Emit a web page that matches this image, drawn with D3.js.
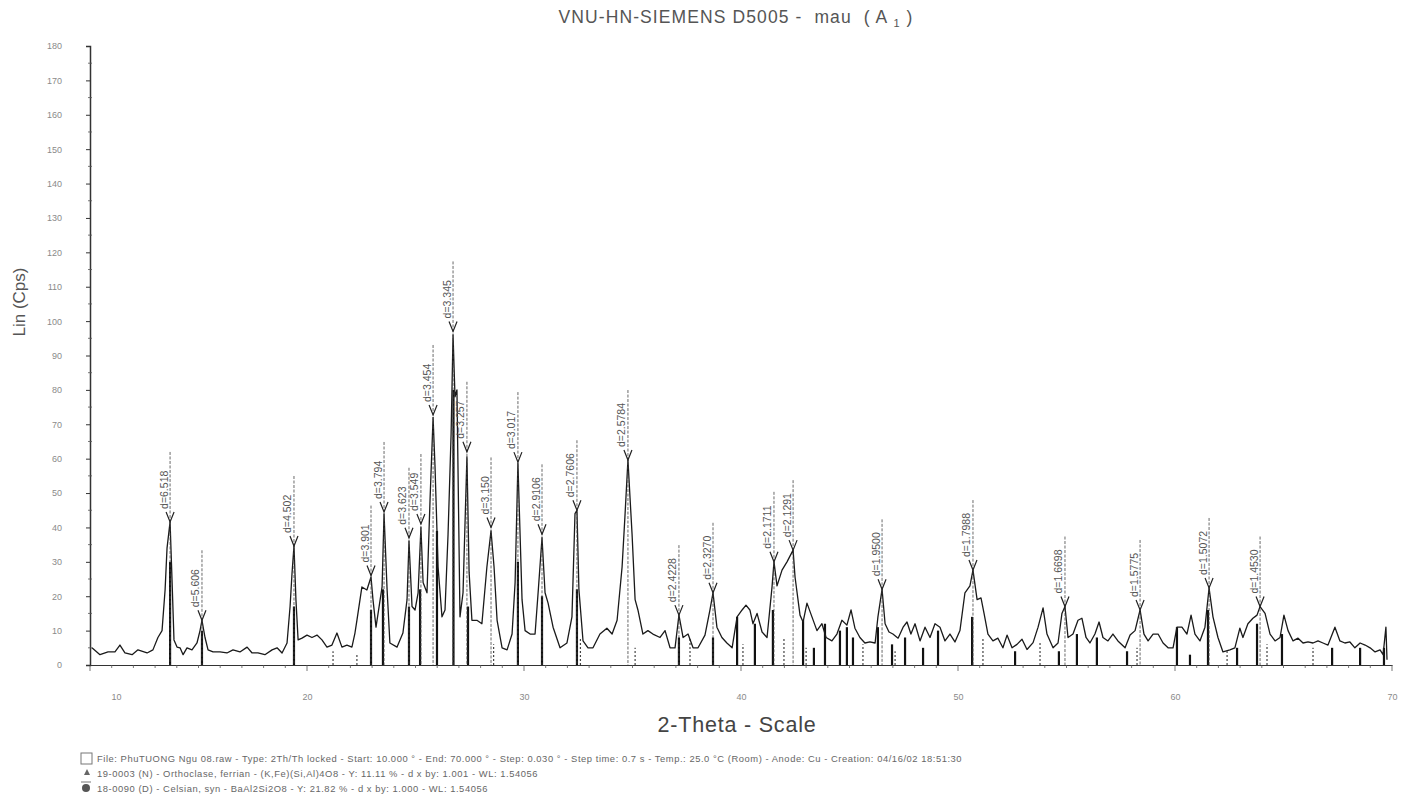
<!DOCTYPE html>
<html>
<head>
<meta charset="utf-8">
<script src="https://cdn.jsdelivr.net/npm/d3@7"></script>
<style>
  body { margin: 0; background: #fff; }
  svg { display: block; font-family: Arial, "Liberation Sans", sans-serif; }
  .tick text { fill: #8a8a8a; font-size: 9px; }
  .tick line, .domain { stroke: #333; }
  .peak-label { fill: #555; font-size: 10.5px; }
  .footer { fill: #666; font-size: 9.4px; letter-spacing: 0.55px; white-space: pre; }
</style>
</head>
<body>
<svg id="chart" width="1405" height="807"></svg>
<script>
// --- Data ---
// measured pattern: 2-theta (deg) and intensity (Cps)
const twoTheta = [
  10.09, 10.46, 10.83, 11.15, 11.38, 11.61, 11.94, 12.21, 12.63, 12.90, 13.13, 13.32, 13.46, 13.55, 13.69, 13.78, 13.87,
  14.01, 14.15, 14.29, 14.47, 14.70, 14.93, 15.07, 15.16, 15.30, 15.44, 15.67, 15.99, 16.31, 16.59, 16.91, 17.24, 17.47,
  17.74, 18.06, 18.39, 18.62, 18.85, 19.08, 19.22, 19.31, 19.40, 19.49, 19.59, 19.77, 20.00, 20.23, 20.46, 20.69, 20.92,
  21.15, 21.38, 21.61, 21.84, 22.07, 22.21, 22.30, 22.53, 22.76, 22.95, 23.04, 23.18, 23.46, 23.55, 23.69, 23.82, 24.15,
  24.42, 24.61, 24.70, 24.84, 24.98, 25.12, 25.25, 25.35, 25.53, 25.67, 25.81, 25.90, 26.04, 26.22, 26.36, 26.50, 26.64,
  26.73, 26.82, 26.91, 27.05, 27.19, 27.37, 27.47, 27.60, 27.83, 28.06, 28.29, 28.48, 28.62, 28.76, 28.99, 29.22, 29.45,
  29.59, 29.72, 29.91, 30.05, 30.28, 30.51, 30.65, 30.83, 30.97, 31.11, 31.34, 31.66, 31.98, 32.21, 32.35, 32.44, 32.53,
  32.72, 32.95, 33.18, 33.50, 33.82, 34.06, 34.29, 34.52, 34.65, 34.79, 34.98, 35.12, 35.25, 35.48, 35.71, 35.94, 36.27,
  36.50, 36.73, 36.96, 37.14, 37.33, 37.56, 37.79, 38.02, 38.34, 38.57, 38.71, 38.89, 39.12, 39.35, 39.59, 39.82, 40.05,
  40.23, 40.41, 40.55, 40.74, 40.97, 41.20, 41.43, 41.52, 41.66, 41.89, 42.12, 42.40, 42.49, 42.72, 42.86, 43.04, 43.27,
  43.50, 43.73, 43.92, 44.19, 44.42, 44.65, 44.88, 45.07, 45.25, 45.48, 45.71, 45.94, 46.18, 46.31, 46.50, 46.64, 46.82,
  47.00, 47.24, 47.47, 47.65, 47.83, 48.02, 48.25, 48.48, 48.71, 48.94, 49.17, 49.40, 49.63, 49.86, 50.09, 50.32, 50.55,
  50.69, 50.88, 51.06, 51.20, 51.38, 51.61, 51.84, 52.07, 52.26, 52.49, 52.72, 52.95, 53.18, 53.46, 53.69, 53.92, 54.10,
  54.38, 54.61, 54.79, 54.93, 55.07, 55.30, 55.53, 55.71, 55.90, 56.08, 56.31, 56.50, 56.68, 56.91, 57.14, 57.37, 57.70,
  57.93, 58.16, 58.39, 58.57, 58.76, 58.99, 59.22, 59.45, 59.68, 59.91, 60.09, 60.32, 60.55, 60.74, 60.92, 61.15, 61.38,
  61.57, 61.75, 61.98, 62.21, 62.53, 62.76, 62.99, 63.13, 63.36, 63.59, 63.78, 63.92, 64.15, 64.38, 64.61, 64.84, 65.02,
  65.21, 65.44, 65.67, 65.90, 66.13, 66.36, 66.59, 66.82, 67.05, 67.37, 67.60, 67.83, 68.06, 68.29, 68.53, 68.76, 68.99,
  69.22, 69.45, 69.59, 69.72, 69.77
];
const counts = [
  5, 3, 3.8, 3.8, 5.8, 3.5, 3, 4.4, 3.5, 4.4, 8, 10, 21.8, 34, 41.6, 24.7, 7.3,
  5.2, 5, 3, 5, 4.4, 6.4, 10, 13, 8, 4.4, 3.8, 3.8, 3.5, 4.4, 3.8, 5.2, 3.5,
  3.5, 3, 4.4, 5, 3.5, 6.4, 17, 26.7, 34.6, 19, 7.3, 7.8, 8.7, 8, 8.7, 7.3, 5.2,
  5.8, 9.3, 5.2, 5.8, 5.2, 9.3, 13, 22.7, 21.8, 25.6, 19, 11, 22.7, 44, 22, 6.4, 5.2,
  9.3, 19, 36, 17, 16, 21, 40, 24, 21, 48, 72, 57.6, 28.5, 14, 16, 38, 67,
  96, 78, 80, 14, 21, 60.5, 27, 13, 13, 12, 28.5, 39, 28.5, 13, 5, 4.4, 9,
  24, 58.7, 19, 10, 9, 9, 21, 37, 21, 18, 11, 5, 6.4, 14, 44, 45, 22,
  7, 5, 5, 9, 10.7, 9, 13, 28.5, 43, 59.6, 38, 19, 16, 9, 10, 9, 8,
  10, 5, 5, 14.5, 8, 9, 5, 5, 8.7, 16, 21, 11, 8, 6.4, 5, 14, 16,
  17.4, 16, 12, 15, 9.6, 8, 22.7, 30, 23, 27.6, 30, 33.4, 25.6, 14.5, 12.5, 18, 14,
  10, 12, 8, 7, 9, 13, 11.6, 16, 10.7, 8, 6.4, 6.7, 6.4, 14, 22, 12, 9.6,
  9, 7.8, 11, 12.5, 9, 12, 7, 11, 8, 12, 11, 7, 9, 6.7, 10, 21, 23,
  27.6, 19, 19.5, 15, 9, 7, 7.8, 5, 8.7, 5, 6, 7.5, 4.5, 6.5, 11, 16.6, 9,
  5, 6.4, 15, 17, 8, 9, 13, 13.6, 8, 6.4, 9, 12.5, 8, 7, 9, 7, 5,
  8.7, 10, 16, 9, 7, 9, 9, 6.4, 5, 5, 11, 11, 9, 14.5, 9, 7, 11,
  22.4, 14, 8, 3.8, 4.4, 5, 10.7, 8, 12, 13.6, 14.5, 17, 15, 9, 7, 8, 14.5,
  10, 7, 7.8, 6.4, 6.7, 6.4, 7, 6.4, 5.8, 11, 7, 6.4, 6.7, 5, 6.4, 5.8, 5,
  3.8, 4.4, 3, 11, 1.5
];

// peak markers: d-spacing label, 2-theta position, intensity at arrow tip
const peakLabels = ["d=6.518", "d=5.606", "d=4.502", "d=3.901", "d=3.794", "d=3.623", "d=3.549", "d=3.454",
  "d=3.345", "d=3.257", "d=3.150", "d=3.017", "d=2.9106", "d=2.7606", "d=2.5784", "d=2.4228", "d=2.3270",
  "d=2.1711", "d=2.1291", "d=1.9500", "d=1.7988", "d=1.6698", "d=1.5775", "d=1.5072", "d=1.4530"];
const peakPos = [13.69, 15.16, 19.40, 22.95, 23.55, 24.70, 25.25, 25.81, 26.73, 27.37, 28.48, 29.72, 30.83,
  32.44, 34.79, 37.14, 38.71, 41.52, 42.40, 46.50, 50.69, 54.93, 58.39, 61.57, 63.92];
const peakTip = [41.6, 13, 34.6, 26, 44.5, 37, 41, 72.7, 97, 62, 40, 59, 38, 45, 59.6, 14.5, 21, 30, 33.4,
  22, 27.6, 17, 16, 22.4, 17];

// reference pattern sticks, first card (solid)
const stickSolidPos = [13.69, 15.16, 19.40, 22.95, 23.50, 24.70, 25.21, 25.99, 26.75, 27.42, 29.72, 30.83, 32.44,
  37.14, 38.71, 39.82, 40.64, 41.47, 42.86, 43.36, 43.87, 44.56, 44.88, 45.16, 46.31, 46.96, 47.56, 48.39, 49.08,
  50.65, 52.63, 54.65, 55.48, 56.40, 57.79, 60.09, 60.69, 61.52, 62.86, 63.78, 64.93, 67.24, 68.53, 69.63];
const stickSolidHeight = [30, 10, 17, 16, 22, 17, 22, 39, 80, 17, 30, 20, 22,
  8, 8, 14, 12, 16, 13, 5, 12, 10, 11, 8, 11, 6, 8, 5, 10,
  14, 4, 4, 9, 8, 4, 11, 3, 16, 5, 12, 9, 5, 5, 5];
// second card (dotted)
const stickDotPos = [21.20, 22.30, 28.60, 32.60, 35.12, 37.65, 40.09, 41.98, 43.00, 45.62, 47.10, 51.15, 53.78,
  58.25, 62.40, 64.24, 66.36];
const stickDotHeight = [4, 3, 6, 8, 5, 8, 6, 8, 5, 6, 4, 8, 7, 5, 4, 6, 5];

const xTicks = [10, 20, 30, 40, 50, 60, 70];
const yTicks = d3.range(0, 181, 10);

const titleText = "VNU-HN-SIEMENS D5005 -  mau  ( A ";
const titleSub = "1";
const footerLines = [
  "File: PhuTUONG Ngu 08.raw - Type: 2Th/Th locked - Start: 10.000 \u00b0 - End: 70.000 \u00b0 - Step: 0.030 \u00b0 - Step time: 0.7 s - Temp.: 25.0 \u00b0C (Room) - Anode: Cu - Creation: 04/16/02 18:51:30",
  "19-0003 (N) - Orthoclase, ferrian - (K,Fe)(Si,Al)4O8 - Y: 11.11 % - d x by: 1.001 - WL: 1.54056",
  "18-0090 (D) - Celsian, syn - BaAl2Si2O8 - Y: 21.82 % - d x by: 1.000 - WL: 1.54056"
];

// --- Scales ---
const svg = d3.select("#chart");
const x = d3.scaleLinear().domain([10, 70]).range([90, 1392]);
const y = d3.scaleLinear().domain([0, 180]).range([665, 46]);

// --- Axes ---
const xAxis = svg.append("g")
  .attr("transform", `translate(0,${y(0)})`)
  .call(d3.axisBottom(x).tickValues(xTicks).tickSize(0).tickPadding(29).tickFormat(d3.format("d")));
xAxis.select(".domain").attr("stroke-width", 1.2);
xAxis.selectAll(".tick text").filter(d => d === 10).attr("dx", 26);

// minor x ticks, one per degree
svg.append("g").selectAll("line")
  .data(d3.range(10, 71, 1))
  .join("line")
  .attr("x1", d => x(d)).attr("x2", d => x(d))
  .attr("y1", y(0)).attr("y2", d => y(0) + (d % 10 === 0 ? 6 : 3))
  .attr("stroke", "#555").attr("stroke-width", 0.8);

const yAxis = svg.append("g")
  .attr("transform", `translate(${x(10)},0)`)
  .call(d3.axisLeft(y).tickValues(yTicks).tickSize(4).tickPadding(24).tickFormat(d3.format("d")));
yAxis.select(".domain").attr("stroke-width", 1.5);
svg.append("g").selectAll("line")
  .data(d3.range(5, 180, 10))
  .join("line")
  .attr("x1", x(10) - 2).attr("x2", x(10) + 2)
  .attr("y1", d => y(d)).attr("y2", d => y(d))
  .attr("stroke", "#555").attr("stroke-width", 0.8);

// --- Reference sticks ---
svg.append("g").selectAll("line")
  .data(stickSolidPos.map((p, i) => ({ p, h: stickSolidHeight[i] })))
  .join("line")
  .attr("x1", d => x(d.p)).attr("x2", d => x(d.p))
  .attr("y1", y(0)).attr("y2", d => y(d.h))
  .attr("stroke", "#111").attr("stroke-width", 2.2);

svg.append("g").selectAll("line")
  .data(stickDotPos.map((p, i) => ({ p, h: stickDotHeight[i] })))
  .join("line")
  .attr("x1", d => x(d.p)).attr("x2", d => x(d.p))
  .attr("y1", y(0)).attr("y2", d => y(d.h))
  .attr("stroke", "#444").attr("stroke-width", 1.2).attr("stroke-dasharray", "2,2");

// --- Measured pattern ---
const line = d3.line().x((d, i) => x(twoTheta[i])).y(d => y(d));
svg.append("path")
  .datum(counts)
  .attr("d", line)
  .attr("fill", "none")
  .attr("stroke", "#1a1a1a")
  .attr("stroke-width", 1.3)
  .attr("stroke-linejoin", "round");

// --- Peak markers ---
const peaks = peakLabels.map((t, i) => ({ t, p: peakPos[i], v: peakTip[i] }));
const pk = svg.append("g").selectAll("g").data(peaks).join("g");
pk.append("line")
  .attr("x1", d => x(d.p)).attr("x2", d => x(d.p))
  .attr("y1", d => y(d.v) - 70).attr("y2", y(0))
  .attr("stroke", "#444").attr("stroke-width", 0.8).attr("stroke-dasharray", "3,1.5");
pk.append("path")
  .attr("d", d => `M${x(d.p) - 4},${y(d.v) - 10}L${x(d.p)},${y(d.v)}L${x(d.p) + 4},${y(d.v) - 10}`)
  .attr("fill", "none").attr("stroke", "#222").attr("stroke-width", 1.2);
pk.append("text")
  .attr("class", "peak-label")
  .attr("transform", d => `translate(${x(d.p) - 2.5},${y(d.v) - 13}) rotate(-90)`)
  .text(d => d.t);

// --- Titles ---
const title = svg.append("text")
  .attr("x", 736).attr("y", 23)
  .attr("text-anchor", "middle")
  .attr("fill", "#555").attr("font-size", 17.5)
  .attr("letter-spacing", 1.1)
  .style("white-space", "pre")
  .text(titleText);
title.append("tspan").attr("font-size", 11).attr("dy", 4).text(titleSub);
title.append("tspan").attr("dy", -4).text(" )");

svg.append("text")
  .attr("transform", "translate(25,302) rotate(-90)")
  .attr("text-anchor", "middle")
  .attr("fill", "#555").attr("font-size", 17)
  .text("Lin (Cps)");

svg.append("text")
  .attr("x", 737).attr("y", 732)
  .attr("text-anchor", "middle")
  .attr("fill", "#444").attr("font-size", 21.5)
  .attr("letter-spacing", 0.8)
  .text("2-Theta - Scale");

// --- Footer ---
const footer = svg.append("g");
footer.selectAll("text")
  .data(footerLines)
  .join("text")
  .attr("class", "footer")
  .attr("x", 97)
  .attr("y", (d, i) => 762 + i * 15)
  .text(d => d);
// little legend marks in front of the lines
footer.append("rect").attr("x", 81).attr("y", 753).attr("width", 11).attr("height", 11)
  .attr("fill", "none").attr("stroke", "#777");
footer.append("path").attr("d", "M84,775L87,769L90,775Z").attr("fill", "#666");
footer.append("circle").attr("cx", 86).attr("cy", 788).attr("r", 4).attr("fill", "#555");
footer.append("line").attr("x1", 81).attr("x2", 91).attr("y1", 782).attr("y2", 782).attr("stroke", "#777");
</script>
</body>
</html>
